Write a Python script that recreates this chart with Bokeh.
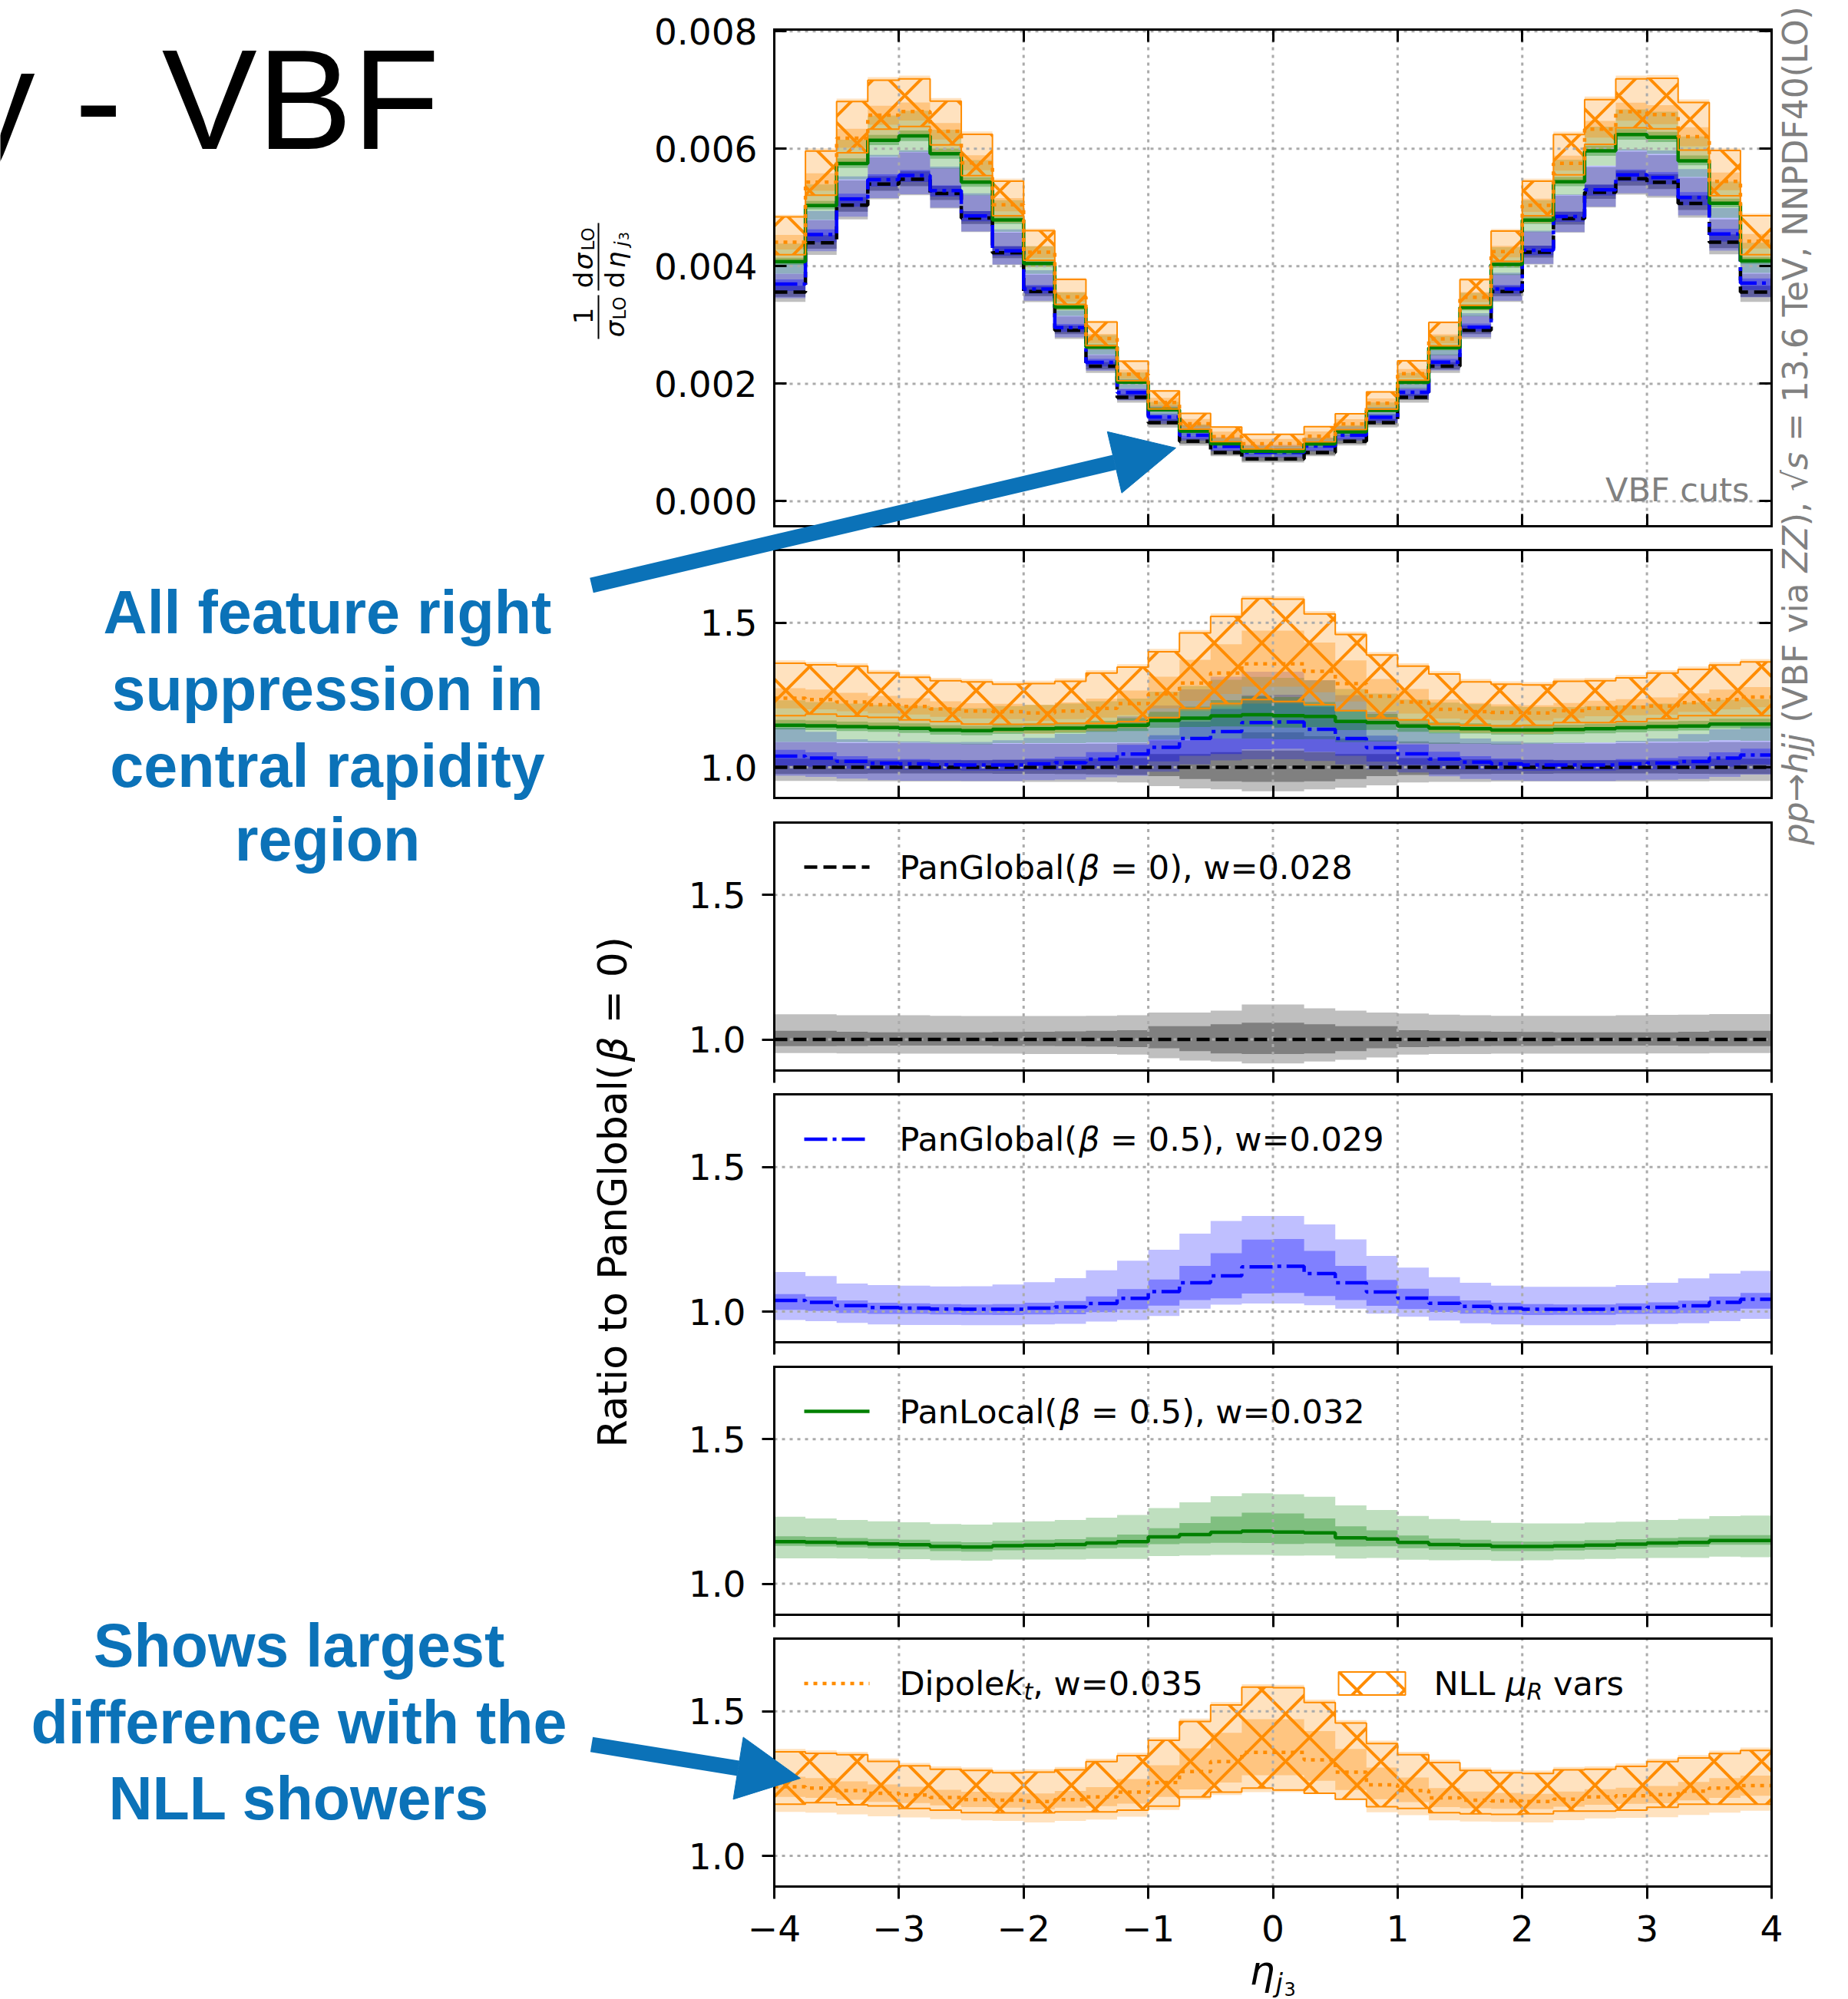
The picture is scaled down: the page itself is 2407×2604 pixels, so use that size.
import math
from bokeh.plotting import figure
from bokeh.models import (Range1d, LinearAxis, FixedTicker, NumeralTickFormatter,
                          Label, Arrow, NormalHead)
from bokeh.embed import file_html
from bokeh.resources import INLINE

W, H = 2407, 2604

# ---------------------------------------------------------------- data
eta_edges = [-4.0, -3.75, -3.5, -3.25, -3.0, -2.75, -2.5, -2.25, -2.0, -1.75, -1.5,
             -1.25, -1.0, -0.75, -0.5, -0.25, 0.0, 0.25, 0.5, 0.75, 1.0, 1.25, 1.5,
             1.75, 2.0, 2.25, 2.5, 2.75, 3.0, 3.25, 3.5, 3.75, 4.0]

# normalised distribution of the reference shower, PanGlobal(beta=0)
sigma_ref = [0.00356, 0.00440, 0.00504, 0.00540, 0.00548, 0.00524, 0.00482, 0.00423,
             0.00357, 0.00291, 0.00230, 0.00177, 0.00134, 0.00102, 0.00083, 0.00072,
             0.00072, 0.00083, 0.00102, 0.00134, 0.00177, 0.00230, 0.00291, 0.00357,
             0.00424, 0.00481, 0.00526, 0.00549, 0.00543, 0.00507, 0.00441, 0.00356]

# PanGlobal(beta=0): ratio 1, inner / outer band offsets
pg0_c = [1.0] * 32
pg0_in_up = [0.030, 0.030, 0.027, 0.025, 0.025, 0.025, 0.025, 0.026, 0.027, 0.028, 0.030,
             0.032, 0.046, 0.046, 0.053, 0.058, 0.058, 0.053, 0.046, 0.046, 0.032, 0.030,
             0.028, 0.027, 0.026, 0.025, 0.025, 0.025, 0.025, 0.027, 0.030, 0.030]
pg0_in_dn = [0.023, 0.023, 0.022, 0.021, 0.021, 0.021, 0.021, 0.022, 0.022, 0.023, 0.024,
             0.026, 0.030, 0.040, 0.048, 0.050, 0.050, 0.048, 0.040, 0.030, 0.026, 0.024,
             0.023, 0.022, 0.022, 0.021, 0.021, 0.021, 0.021, 0.022, 0.023, 0.023]
pg0_out_up = [0.087, 0.087, 0.084, 0.084, 0.084, 0.082, 0.081, 0.081, 0.081, 0.081, 0.082,
              0.084, 0.093, 0.093, 0.100, 0.121, 0.121, 0.108, 0.100, 0.093, 0.090, 0.086,
              0.084, 0.082, 0.082, 0.082, 0.082, 0.084, 0.085, 0.086, 0.088, 0.088]
pg0_out_dn = [0.047, 0.047, 0.048, 0.048, 0.049, 0.049, 0.049, 0.049, 0.050, 0.050, 0.050,
              0.052, 0.065, 0.073, 0.076, 0.083, 0.083, 0.076, 0.070, 0.062, 0.052, 0.050,
              0.050, 0.049, 0.049, 0.049, 0.049, 0.049, 0.048, 0.048, 0.047, 0.047]

# PanGlobal(beta=0.5)
pg5_c = [1.039, 1.032, 1.021, 1.014, 1.012, 1.009, 1.008, 1.008, 1.012, 1.016, 1.028,
         1.046, 1.069, 1.100, 1.124, 1.155, 1.157, 1.132, 1.100, 1.068, 1.047, 1.029,
         1.018, 1.012, 1.008, 1.008, 1.008, 1.012, 1.015, 1.020, 1.032, 1.043]
pg5_in_up = [0.022, 0.020, 0.018, 0.017, 0.017, 0.017, 0.017, 0.018, 0.019, 0.021, 0.025,
             0.032, 0.042, 0.058, 0.078, 0.094, 0.094, 0.078, 0.058, 0.042, 0.032, 0.025,
             0.021, 0.019, 0.018, 0.017, 0.017, 0.017, 0.017, 0.018, 0.020, 0.022]
pg5_in_dn = [0.033, 0.030, 0.026, 0.022, 0.020, 0.019, 0.019, 0.020, 0.022, 0.025, 0.030,
             0.038, 0.048, 0.060, 0.078, 0.092, 0.092, 0.078, 0.060, 0.048, 0.038, 0.030,
             0.025, 0.022, 0.020, 0.019, 0.019, 0.020, 0.022, 0.026, 0.030, 0.033]
pg5_out_up = [0.098, 0.091, 0.076, 0.078, 0.078, 0.078, 0.080, 0.086, 0.090, 0.100, 0.115,
              0.130, 0.145, 0.170, 0.190, 0.176, 0.174, 0.170, 0.150, 0.125, 0.105, 0.090,
              0.082, 0.078, 0.078, 0.078, 0.078, 0.080, 0.085, 0.095, 0.100, 0.098]
pg5_out_dn = [0.068, 0.065, 0.060, 0.058, 0.058, 0.055, 0.055, 0.055, 0.056, 0.058, 0.062,
              0.075, 0.084, 0.090, 0.100, 0.127, 0.129, 0.110, 0.090, 0.075, 0.065, 0.060,
              0.058, 0.056, 0.055, 0.055, 0.055, 0.057, 0.058, 0.060, 0.065, 0.068]

# PanLocal(beta=0.5)
pl5_c = [1.146, 1.144, 1.141, 1.138, 1.135, 1.129, 1.127, 1.132, 1.134, 1.136, 1.141,
         1.146, 1.162, 1.170, 1.178, 1.182, 1.179, 1.176, 1.159, 1.155, 1.143, 1.136,
         1.134, 1.129, 1.129, 1.131, 1.134, 1.137, 1.141, 1.143, 1.150, 1.150]
pl5_in_up = [0.018, 0.018, 0.017, 0.017, 0.017, 0.017, 0.017, 0.017, 0.018, 0.018, 0.020,
             0.024, 0.030, 0.040, 0.055, 0.064, 0.064, 0.050, 0.040, 0.030, 0.024, 0.020,
             0.018, 0.018, 0.017, 0.017, 0.017, 0.017, 0.017, 0.018, 0.018, 0.018]
pl5_in_dn = [0.015, 0.015, 0.015, 0.015, 0.016, 0.016, 0.016, 0.016, 0.016, 0.017, 0.018,
             0.020, 0.025, 0.030, 0.036, 0.041, 0.041, 0.036, 0.030, 0.025, 0.020, 0.018,
             0.017, 0.016, 0.016, 0.016, 0.016, 0.016, 0.015, 0.015, 0.015, 0.015]
pl5_out_up = [0.086, 0.082, 0.080, 0.078, 0.078, 0.078, 0.078, 0.080, 0.082, 0.085, 0.088,
              0.092, 0.100, 0.112, 0.125, 0.131, 0.131, 0.125, 0.112, 0.100, 0.092, 0.088,
              0.085, 0.082, 0.080, 0.078, 0.078, 0.078, 0.080, 0.082, 0.084, 0.086]
pl5_out_dn = [0.058, 0.056, 0.054, 0.052, 0.050, 0.048, 0.047, 0.048, 0.050, 0.052, 0.055,
              0.060, 0.066, 0.072, 0.078, 0.082, 0.082, 0.078, 0.072, 0.066, 0.060, 0.055,
              0.052, 0.050, 0.048, 0.047, 0.048, 0.050, 0.052, 0.054, 0.056, 0.058]

# Dipole k_t
dip_c = [1.239, 1.235, 1.226, 1.217, 1.211, 1.202, 1.195, 1.193, 1.188, 1.195, 1.204,
         1.221, 1.254, 1.292, 1.326, 1.358, 1.358, 1.332, 1.290, 1.246, 1.226, 1.201,
         1.193, 1.190, 1.188, 1.196, 1.204, 1.208, 1.212, 1.224, 1.235, 1.243]
dip_in_up = [0.035, 0.034, 0.032, 0.030, 0.028, 0.027, 0.027, 0.027, 0.028, 0.030, 0.034,
             0.045, 0.060, 0.080, 0.100, 0.115, 0.115, 0.100, 0.080, 0.060, 0.045, 0.034,
             0.030, 0.028, 0.027, 0.027, 0.027, 0.028, 0.030, 0.032, 0.034, 0.035]
dip_in_dn = [0.035, 0.034, 0.032, 0.030, 0.028, 0.027, 0.026, 0.026, 0.027, 0.028, 0.032,
             0.040, 0.050, 0.062, 0.072, 0.079, 0.079, 0.072, 0.062, 0.050, 0.040, 0.032,
             0.028, 0.027, 0.026, 0.026, 0.027, 0.028, 0.030, 0.032, 0.034, 0.035]
dip_out_up = [0.131, 0.130, 0.134, 0.120, 0.111, 0.108, 0.111, 0.105, 0.112, 0.113, 0.132,
              0.136, 0.156, 0.183, 0.206, 0.236, 0.234, 0.209, 0.180, 0.153, 0.134, 0.132,
              0.113, 0.108, 0.107, 0.112, 0.106, 0.112, 0.124, 0.125, 0.129, 0.132]
dip_out_dn = [0.087, 0.085, 0.082, 0.080, 0.078, 0.075, 0.072, 0.072, 0.072, 0.074, 0.078,
              0.085, 0.095, 0.097, 0.115, 0.137, 0.137, 0.115, 0.097, 0.095, 0.085, 0.078,
              0.074, 0.072, 0.072, 0.072, 0.074, 0.076, 0.078, 0.082, 0.085, 0.087]

# NLL mu_R variation envelope (Dipole k_t), ratio to PanGlobal(beta=0)
nll_hi = [1.360, 1.355, 1.350, 1.327, 1.312, 1.300, 1.296, 1.288, 1.290, 1.298, 1.326,
          1.347, 1.400, 1.465, 1.522, 1.584, 1.582, 1.531, 1.460, 1.389, 1.350, 1.323,
          1.296, 1.288, 1.285, 1.298, 1.300, 1.310, 1.326, 1.339, 1.354, 1.365]
nll_lo = [1.179, 1.184, 1.177, 1.173, 1.164, 1.158, 1.150, 1.149, 1.149, 1.152, 1.152,
          1.158, 1.172, 1.204, 1.221, 1.235, 1.228, 1.217, 1.196, 1.170, 1.164, 1.150,
          1.146, 1.144, 1.146, 1.155, 1.155, 1.158, 1.168, 1.179, 1.179, 1.179]

x_ticks = [-4, -3, -2, -1, 0, 1, 2, 3, 4]
top_ticks = [0.0, 0.002, 0.004, 0.006, 0.008]
ratio_ticks = [1.0, 1.5]

# ---------------------------------------------------------------- style
ORANGE = "#ff8c00"
GREEN = "#008000"
BLUE = "#0000ff"
BLACK = "#000000"
GRID = "#ababab"
GREY_TXT = "#808080"
NOTE = "#0b72b8"

SERIES = {
    "pg0": dict(c=pg0_c, iu=pg0_in_up, idn=pg0_in_dn, ou=pg0_out_up, od=pg0_out_dn,
                color=BLACK, dash="17 8"),
    "pg5": dict(c=pg5_c, iu=pg5_in_up, idn=pg5_in_dn, ou=pg5_out_up, od=pg5_out_dn,
                color=BLUE, dash="30 7 5 7"),
    "pl5": dict(c=pl5_c, iu=pl5_in_up, idn=pl5_in_dn, ou=pl5_out_up, od=pl5_out_dn,
                color=GREEN, dash="solid"),
    "dip": dict(c=dip_c, iu=dip_in_up, idn=dip_in_dn, ou=dip_out_up, od=dip_out_dn,
                color=ORANGE, dash="5 7"),
}

# ---------------------------------------------------------------- canvas
p = figure(width=W, height=H, x_range=Range1d(0, W), y_range=Range1d(H, 0),
           x_axis_type=None, y_axis_type=None, min_border=0,
           outline_line_color=None, toolbar_location=None, output_backend="svg",
           background_fill_color="white", border_fill_color="white")

FX0, FX1 = 1008.0, 2307.0


def px_to_eta(px):
    return -4.0 + (px - FX0) * 8.0 / (FX1 - FX0)


p.extra_x_ranges = {"eta": Range1d(px_to_eta(0), px_to_eta(W))}

PANELS = [("top", 38.0, 685.0, -0.000426, 0.00803)]
for k in range(5):
    t = 716.0 + 354.5 * k
    PANELS.append((f"r{k}", t, t + 323.0, 0.894, 1.752))

yr = {}
for name, t, b, lo, hi in PANELS:
    def v_at(px, t=t, b=b, lo=lo, hi=hi):
        return hi - (px - t) / (b - t) * (hi - lo)
    yr[name] = Range1d(start=v_at(H), end=v_at(0))
p.extra_y_ranges = yr


def ext(v):
    return list(v) + [v[-1]]


def band(name, scale, c, up, dn, color, alpha):
    lo = [s * (ci - d) for s, ci, d in zip(scale, c, dn)]
    hi = [s * (ci + u) for s, ci, u in zip(scale, c, up)]
    p.varea_step(x=eta_edges, y1=ext(lo), y2=ext(hi), step_mode="after",
                 fill_color=color, fill_alpha=alpha,
                 x_range_name="eta", y_range_name=name)


def series_bands(name, scale, key):
    s = SERIES[key]
    band(name, scale, s["c"], s["ou"], s["od"], s["color"], 0.25)
    band(name, scale, s["c"], s["iu"], s["idn"], s["color"], 0.33)


def series_line(name, scale, key):
    s = SERIES[key]
    vals = [a * b for a, b in zip(scale, s["c"])]
    p.step(x=eta_edges, y=ext(vals), mode="after", line_color=s["color"],
           line_width=4.5, line_dash=s["dash"], x_range_name="eta", y_range_name=name)


def nll_band(name, scale):
    lo = [s * v for s, v in zip(scale, nll_lo)]
    hi = [s * v for s, v in zip(scale, nll_hi)]
    p.varea_step(x=eta_edges, y1=ext(lo), y2=ext(hi), step_mode="after",
                 fill_color=None, hatch_pattern="x", hatch_color=ORANGE,
                 hatch_weight=4, hatch_scale=62,
                 x_range_name="eta", y_range_name=name)


def nll_edges(name, scale):
    for arr in (nll_lo, nll_hi):
        vals = [s * v for s, v in zip(scale, arr)]
        p.step(x=eta_edges, y=ext(vals), mode="after", line_color=ORANGE,
               line_width=2, x_range_name="eta", y_range_name=name)


def grid(name, lo, hi, yticks):
    xs = x_ticks[1:-1]
    p.segment(x0=xs, y0=[lo] * len(xs), x1=xs, y1=[hi] * len(xs),
              line_color=GRID, line_width=3, line_dash="4 6",
              x_range_name="eta", y_range_name=name)
    p.segment(x0=[-4] * len(yticks), y0=yticks, x1=[4] * len(yticks), y1=yticks,
              line_color=GRID, line_width=3, line_dash="4 6",
              x_range_name="eta", y_range_name=name)


def frame(name, lo, hi, yticks, fmt, inward, xlabels=False):
    base = dict(x_range_name="eta", y_range_name=name, axis_line_width=3,
                axis_line_color="black", axis_line_cap="square",
                major_tick_line_width=3, major_tick_line_color="black",
                minor_tick_line_color=None, major_label_text_font="DejaVu Sans",
                major_label_text_font_size="47px", major_label_text_color="black")
    # frame sides that carry no numbers
    bare = dict(base, major_label_text_color=None)
    tin, tout = (16, 0) if inward else (0, 16)
    left = LinearAxis(fixed_location=-4, bounds=(lo, hi), ticker=FixedTicker(ticks=yticks),
                      formatter=NumeralTickFormatter(format=fmt),
                      major_tick_in=tin, major_tick_out=tout,
                      major_label_standoff=22 if inward else 21, **base)
    p.add_layout(left, "left")
    right = LinearAxis(fixed_location=4, bounds=(lo, hi),
                       ticker=FixedTicker(ticks=yticks if inward else []),
                       major_tick_in=16 if inward else 0, major_tick_out=0, **bare)
    p.add_layout(right, "right")
    top = LinearAxis(fixed_location=hi, bounds=(-4, 4),
                     ticker=FixedTicker(ticks=x_ticks if inward else []),
                     major_tick_in=16 if inward else 0, major_tick_out=0, **bare)
    p.add_layout(top, "above")
    if xlabels:
        bottom = LinearAxis(fixed_location=lo, bounds=(-4, 4), ticker=FixedTicker(ticks=x_ticks),
                            major_tick_in=tin, major_tick_out=tout, major_label_standoff=21,
                            major_label_overrides={-4: "\u22124", -3: "\u22123",
                                                   -2: "\u22122", -1: "\u22121"},
                            **base)
    else:
        bottom = LinearAxis(fixed_location=lo, bounds=(-4, 4), ticker=FixedTicker(ticks=x_ticks),
                            major_tick_in=tin, major_tick_out=tout, **bare)
    p.add_layout(bottom, "below")


# ---------------------------------------------------------------- panels
ones = [1.0] * 32
ALL = ["pg0", "pg5", "pl5", "dip"]

# distribution panel and the overlay ratio panel
for name, scale in (("top", sigma_ref), ("r0", ones)):
    lo, hi = [(q[3], q[4]) for q in PANELS if q[0] == name][0]
    for key in ALL:
        series_bands(name, scale, key)
    nll_band(name, scale)
    grid(name, lo, hi, top_ticks if name == "top" else ratio_ticks)
    for key in ALL:
        series_line(name, scale, key)
    nll_edges(name, scale)

frame("top", -0.000426, 0.00803, top_ticks, "0.000", inward=True)
frame("r0", 0.894, 1.752, ratio_ticks, "0.0", inward=True)

# one shower per panel
for name, key in (("r1", "pg0"), ("r2", "pg5"), ("r3", "pl5"), ("r4", "dip")):
    series_bands(name, ones, key)
    if key == "dip":
        nll_band(name, ones)
    grid(name, 0.894, 1.752, ratio_ticks)
    series_line(name, ones, key)
    if key == "dip":
        nll_edges(name, ones)
    frame(name, 0.894, 1.752, ratio_ticks, "0.0", inward=False, xlabels=(name == "r4"))

# ---------------------------------------------------------------- text helpers
ADV = {" ": 0.318, "(": 0.390, ")": 0.390, ",": 0.318, ".": 0.318, "=": 0.838,
       "0": 0.636, "1": 0.636, "2": 0.636, "3": 0.636, "4": 0.636, "5": 0.636,
       "6": 0.636, "7": 0.636, "8": 0.636, "9": 0.636,
       "A": 0.684, "B": 0.686, "D": 0.770, "F": 0.575, "G": 0.775, "L": 0.557,
       "N": 0.748, "O": 0.787, "P": 0.603, "R": 0.695, "T": 0.611, "V": 0.684,
       "Z": 0.685, "a": 0.613, "b": 0.635, "c": 0.550, "d": 0.635, "e": 0.615,
       "h": 0.634, "i": 0.278, "j": 0.278, "k": 0.579, "l": 0.278, "n": 0.634,
       "o": 0.612, "p": 0.635, "r": 0.411, "s": 0.521, "t": 0.392, "v": 0.592,
       "w": 0.818, "\u03b2": 0.637, "\u03b7": 0.634, "\u03bc": 0.636,
       "\u03c3": 0.634, "\u2192": 0.838, "\u221a": 0.636}


def adv(s, size):
    return sum(ADV.get(ch, 0.6) for ch in s) * size


def label(x, y, s, size, italic=False, color="black", font="DejaVu Sans", align="left",
          baseline="middle", angle=0.0, bold=False):
    style = "normal"
    if bold and italic:
        style = "bold italic"
    elif bold:
        style = "bold"
    elif italic:
        style = "italic"
    p.add_layout(Label(x=x, y=y, text=s, text_font=font, text_font_size=f"{size}px",
                       text_font_style=style, text_color=color, text_align=align,
                       text_baseline=baseline, angle=angle))


def pieces_of(pieces):
    # leading spaces are turned into an offset, since they are not kept in the text
    for s, size, italic, d in pieces:
        core = s.lstrip(" ")
        lead = (len(s) - len(core)) * ADV[" "] * size
        yield core.rstrip(" "), lead, adv(core, size), size, italic, d


def hrow(x, y, pieces, color="black"):
    for s, lead, width, size, italic, dy in pieces_of(pieces):
        x += lead
        label(x, y + dy, s, size, italic=italic, color=color)
        x += width


def vrow(x, y, pieces, color="black"):
    for s, lead, width, size, italic, dx in pieces_of(pieces):
        y -= lead
        label(x + dx, y, s, size, italic=italic, color=color, angle=math.pi / 2)
        y -= width


# ---------------------------------------------------------------- legends
LEG = 43
leg_y = [t + 58.5 for (_, t, _, _, _) in PANELS[2:]]
x_s0, x_s1, x_txt = 1047, 1132, 1171
for yc, key in zip(leg_y[:3], ["pg0", "pg5", "pl5"]):
    s = SERIES[key]
    p.line(x=[x_s0, x_s1], y=[yc, yc], line_color=s["color"], line_width=4.5,
           line_dash=s["dash"])
hrow(x_txt, leg_y[0], [("PanGlobal(", LEG, False, 0), ("\u03b2", LEG, True, 0),
                       (" = 0), w=0.028", LEG, False, 0)])
hrow(x_txt, leg_y[1], [("PanGlobal(", LEG, False, 0), ("\u03b2", LEG, True, 0),
                       (" = 0.5), w=0.029", LEG, False, 0)])
hrow(x_txt, leg_y[2], [("PanLocal(", LEG, False, 0), ("\u03b2", LEG, True, 0),
                       (" = 0.5), w=0.032", LEG, False, 0)])

yd = leg_y[3]
p.line(x=[x_s0, x_s1], y=[yd, yd], line_color=ORANGE, line_width=4.5, line_dash="5 7")
hrow(x_txt, yd, [("Dipole", LEG, False, 0), ("k", LEG, True, 0), ("t", 30, True, 10),
                 (", w=0.035", LEG, False, 0)])
p.quad(left=[1743], right=[1830], top=[yd - 15], bottom=[yd + 15], fill_color=None,
       line_color=ORANGE, line_width=2, hatch_pattern="x", hatch_color=ORANGE,
       hatch_weight=4, hatch_scale=62)
hrow(1867, yd, [("NLL ", LEG, False, 0), ("\u03bc", LEG, True, 0), ("R", 30, True, 10),
                (" vars", LEG, False, 0)])

# ---------------------------------------------------------------- axis titles
vrow(797, 1885, [("Ratio to PanGlobal(", 52, False, 0), ("\u03b2", 52, True, 0),
                 (" = 0)", 52, False, 0)])

label(1627, 2566, "\u03b7", 52, italic=True)
label(1661, 2582, "j", 34, italic=True)
label(1672, 2590, "3", 24)

# 1/sigma_LO dsigma_LO/deta_j3 as two stacked fractions
R = math.pi / 2
label(759, 411, "1", 34, align="center", angle=R)
label(800, 428, "\u03c3", 34, italic=True, align="center", angle=R)
label(806, 401, "LO", 23, align="center", angle=R)
label(759, 364, "d", 34, align="center", angle=R)
label(759, 340, "\u03c3", 34, italic=True, align="center", angle=R)
label(765, 311, "LO", 23, align="center", angle=R)
label(800, 364, "d", 34, align="center", angle=R)
label(801, 338, "\u03b7", 34, italic=True, align="center", angle=R)
label(808, 317, "j", 23, italic=True, align="center", angle=R)
label(812, 307, "3", 17, align="center", angle=R)
p.segment(x0=[779, 779], y0=[384, 290], x1=[779, 779], y1=[441, 378],
          line_color="black", line_width=2)

# process description along the right edge
vrow(2338, 1100, [("pp\u2192hjj", 44, True, 0), (" (VBF via ", 44, False, 0),
                  ("ZZ", 44, True, 0), ("), ", 44, False, 0), ("\u221a", 44, False, 0),
                  ("s", 44, True, 0), (" = 13.6 TeV, NNPDF40(LO)", 44, False, 0)],
     color=GREY_TXT)

label(2278, 637, "VBF cuts", 43, color=GREY_TXT, align="right")

# ---------------------------------------------------------------- slide notes
label(-48, 129, "y - VBF", 186, font="Liberation Sans")

for yy, line in zip([797, 897, 997, 1093],
                    ["All feature right", "suppression in", "central rapidity", "region"]):
    label(426, yy, line, 79, bold=True, color=NOTE, font="Liberation Sans", align="center")
for yy, line in zip([2143, 2243, 2342],
                    ["Shows largest", "difference with the", "NLL showers"]):
    label(389, yy, line, 79, bold=True, color=NOTE, font="Liberation Sans", align="center")

p.add_layout(Arrow(x_start=770, y_start=762, x_end=1531, y_end=583, line_color=NOTE,
                   line_width=20,
                   end=NormalHead(size=82, fill_color=NOTE, line_color=NOTE, line_width=1)))
p.add_layout(Arrow(x_start=770, y_start=2272, x_end=1042, y_end=2316, line_color=NOTE,
                   line_width=20,
                   end=NormalHead(size=82, fill_color=NOTE, line_color=NOTE, line_width=1)))

open("out.html", "w").write(file_html(p, INLINE))
